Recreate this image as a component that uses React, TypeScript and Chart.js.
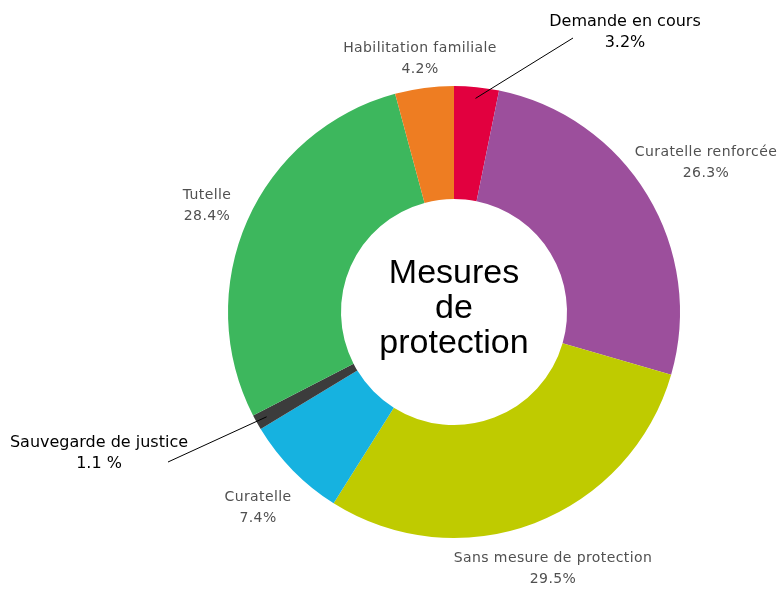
import React, { useEffect, useRef } from "react";
import { Chart, registerables } from "chart.js";

Chart.register(...registerables);

const categories = [
  "Demande en cours",
  "Curatelle renforcée",
  "Sans mesure de protection",
  "Curatelle",
  "Sauvegarde de justice",
  "Tutelle",
  "Habilitation familiale",
];
const values = [3.2, 26.3, 29.5, 7.4, 1.1, 28.4, 4.2];
const valueLabels = ["3.2%", "26.3%", "29.5%", "7.4%", "1.1 %", "28.4%", "4.2%"];
const centerLines = ["Mesures", "de", "protection"];

const colors = ["#e2003f", "#9c4f9c", "#bfcb00", "#16b2e0", "#3c3c3c", "#3db75d", "#ee7d22"];

// label placement (layout only)
const labelPos = [
  { x: 625, y: 22, dark: true, line: [573, 38] },
  { x: 706, y: 152, dark: false },
  { x: 553, y: 558, dark: false },
  { x: 258, y: 497, dark: false },
  { x: 99, y: 443, dark: true, line: [168, 462] },
  { x: 207, y: 195, dark: false },
  { x: 420, y: 48, dark: false },
];

const labelPlugin = {
  id: "labelPlugin",
  afterDraw(chart: any) {
    const ctx = chart.ctx;
    const meta = chart.getDatasetMeta(0);
    ctx.save();
    ctx.textAlign = "center";
    ctx.textBaseline = "middle";
    meta.data.forEach((arc: any, i: number) => {
      const p = labelPos[i];
      if (p.dark) {
        ctx.font = "16px 'DejaVu Sans'";
        ctx.fillStyle = "#000";
        (ctx as any).letterSpacing = "0px";
      } else {
        ctx.font = "14px 'DejaVu Sans'";
        ctx.fillStyle = "#505050";
        (ctx as any).letterSpacing = "0.4px";
      }
      ctx.fillText(categories[i], p.x, p.y);
      ctx.fillText(valueLabels[i], p.x, p.y + 21);
      if (p.line) {
        const mid = (arc.startAngle + arc.endAngle) / 2;
        const r = arc.innerRadius + (arc.outerRadius - arc.innerRadius) * 0.9;
        const ex = arc.x + Math.cos(mid) * r;
        const ey = arc.y + Math.sin(mid) * r;
        ctx.beginPath();
        ctx.strokeStyle = "#000";
        ctx.lineWidth = 1;
        ctx.moveTo(p.line[0], p.line[1]);
        ctx.lineTo(ex, ey);
        ctx.stroke();
      }
    });
    const a = meta.data[0];
    (ctx as any).letterSpacing = "0px";
    ctx.fillStyle = "#000";
    ctx.font = "34px 'Liberation Sans'";
    ctx.textBaseline = "alphabetic";
    centerLines.forEach((t, k) => {
      ctx.fillText(t, a.x, a.y - 29 + k * 35);
    });
    ctx.restore();
  },
};

export default function App() {
  const ref = useRef<HTMLCanvasElement | null>(null);
  useEffect(() => {
    if (!ref.current) return;
    const chart = new Chart(ref.current, {
      type: "doughnut",
      data: {
        labels: categories,
        datasets: [
          {
            data: values,
            backgroundColor: colors,
            borderWidth: 0,
          },
        ],
      },
      options: {
        animation: false,
        responsive: false,
        cutout: "50%",
        layout: { padding: { left: 228, right: 104, top: 86, bottom: 56 } },
        plugins: { legend: { display: false }, tooltip: { enabled: false } },
      },
      plugins: [labelPlugin],
    });
    return () => chart.destroy();
  }, []);
  return (
    <div style={{ position: "fixed", left: 0, top: 0, width: 784, height: 594, background: "#fff" }}>
      <canvas ref={ref} width={784} height={594} />
    </div>
  );
}
